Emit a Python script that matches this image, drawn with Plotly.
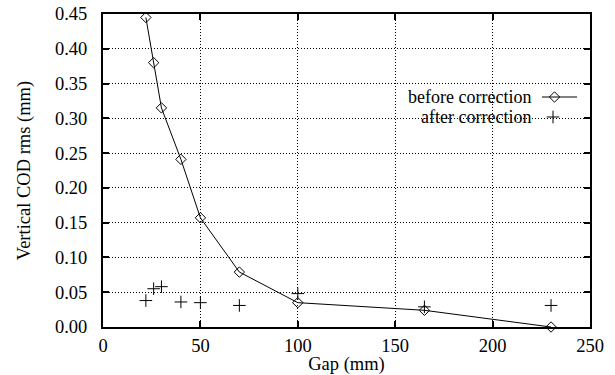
import plotly.graph_objects as go

gap_before = [22, 26, 30, 40, 50, 70, 100, 165, 230]
cod_before = [0.445, 0.380, 0.315, 0.241, 0.157, 0.079, 0.035, 0.024, 0.0]
gap_after = [22, 26, 30, 40, 50, 70, 100, 165, 230]
cod_after = [0.038, 0.055, 0.058, 0.036, 0.035, 0.031, 0.048, 0.029, 0.031]
legend_labels = ["before correction", "after correction"]

FONT = "'Liberation Serif', 'Times New Roman', Times, serif"
FS = 18.5
L, R, T, B = 103, 25, 14, 48
W, H = 615, 375
pw, ph = W - L - R, H - T - B

fig = go.Figure()
fig.add_trace(go.Scatter(
    x=gap_before, y=cod_before, mode="lines+markers",
    line=dict(color="black", width=1),
    marker=dict(symbol="diamond-open", size=8, color="black", line=dict(width=1)),
    showlegend=False, cliponaxis=False))
fig.add_trace(go.Scatter(
    x=gap_after, y=cod_after, mode="markers",
    marker=dict(symbol="cross-thin-open", size=9, color="black", line=dict(width=1, color="black")),
    showlegend=False, cliponaxis=False))

# legend samples drawn on a hidden overlay axis (0..1 in plot-area fractions)
def fx(px): return (px - L) / pw
def fy(py): return (H - B - py) / ph
y1, y2 = fy(97.0), fy(117.0)
fig.add_trace(go.Scatter(x=[fx(542), fx(577)], y=[y1, y1], mode="lines",
                         line=dict(color="black", width=1), xaxis="x2", yaxis="y2", showlegend=False))
fig.add_trace(go.Scatter(x=[fx(554.5)], y=[y1], mode="markers",
                         marker=dict(symbol="diamond-open", size=8, color="black", line=dict(width=1)),
                         xaxis="x2", yaxis="y2", showlegend=False))
fig.add_trace(go.Scatter(x=[fx(553)], y=[y2], mode="markers",
                         marker=dict(symbol="cross-thin-open", size=9, color="black", line=dict(width=1, color="black")),
                         xaxis="x2", yaxis="y2", showlegend=False))
for lab, yy in zip(legend_labels, [y1, y2]):
    fig.add_annotation(x=fx(533), y=yy, xref="x2", yref="y2", text=lab, showarrow=False,
                       xanchor="right", yanchor="middle", font=dict(family=FONT, size=18, color="black"))

axis_common = dict(showline=True, linecolor="black", linewidth=2, mirror="ticks",
                   ticks="inside", ticklen=6, tickwidth=1.5, tickcolor="black",
                   showgrid=True, gridcolor="black", gridwidth=1, griddash="1px,2px",
                   zeroline=False, automargin=False,
                   tickfont=dict(family=FONT, size=FS, color="black"))
fig.update_layout(
    width=W, height=H, margin=dict(l=L, r=R, t=T, b=B),
    plot_bgcolor="white", paper_bgcolor="white",
    font=dict(family=FONT, size=FS, color="black"),
    xaxis=dict(range=[0, 250], dtick=50, **axis_common, ticklabelstandoff=1,
               title=dict(text="Gap (mm)", font=dict(family=FONT, size=FS, color="black"), standoff=0)),
    yaxis=dict(range=[0, 0.45], dtick=0.05, tickformat=".2f", **axis_common, ticklabelstandoff=10,
               title=dict(text="Vertical COD rms (mm)", font=dict(family=FONT, size=FS, color="black"), standoff=19)),
    xaxis2=dict(range=[0, 1], overlaying="x", visible=False),
    yaxis2=dict(range=[0, 1], overlaying="y", visible=False),
)
fig.write_html("out.html")
